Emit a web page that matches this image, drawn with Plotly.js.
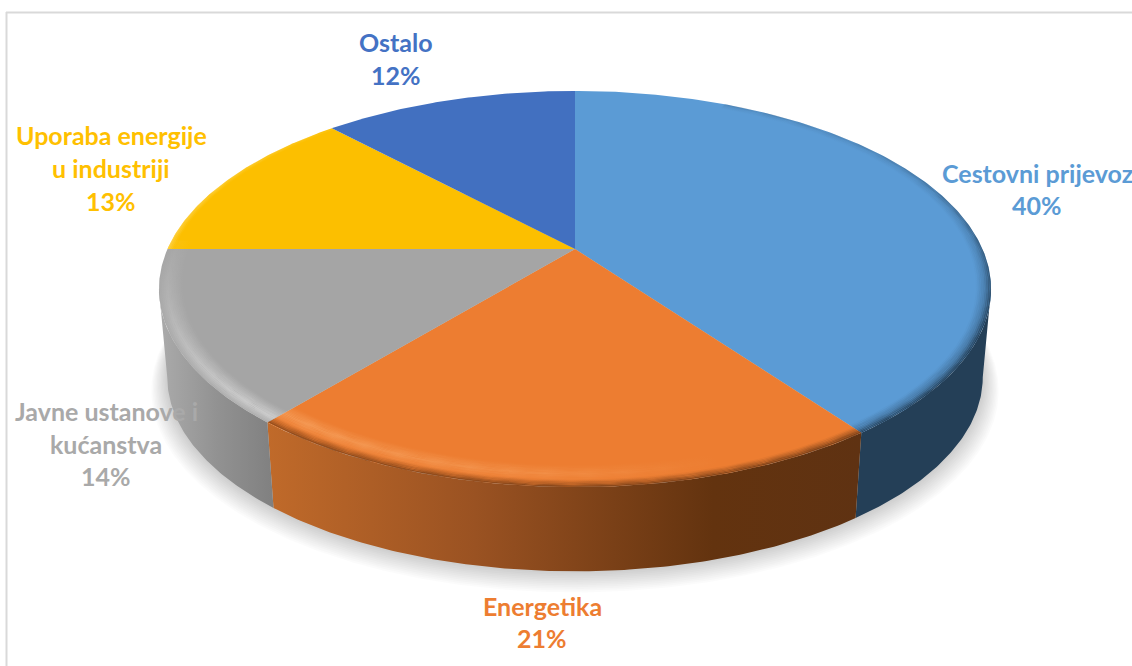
<!DOCTYPE html>
<html>
<head>
<meta charset="utf-8">
<script src="https://cdn.plot.ly/plotly-3.0.1.min.js"></script>
<style>html,body{margin:0;padding:0;background:#fff;overflow:hidden}#chart{width:1132px;height:666px}</style>
</head>
<body>
<div id="chart"></div>
<script>
// ---- data ----
const categories = ["Cestovni prijevoz", "Energetika", "Javne ustanove i kućanstva", "Uporaba energije u industriji", "Ostalo"];
const shares = [40, 21, 14, 13, 12];
const labelLines = [["Cestovni prijevoz"], ["Energetika"], ["Javne ustanove i", "kućanstva"], ["Uporaba energije", "u industriji"], ["Ostalo"]];
const sliceColors = ["#5B9BD5", "#ED7D31", "#A5A5A5", "#FCBF00", "#4270C0"];
const labelColors = ["#5B9BD5", "#ED7D31", "#A9A9A9", "#FFC000", "#4472C4"];
const wallScales = [
  [[0, "#243F57"], [1, "#243F57"]],
  [[0, "#C06A2A"], [0.35, "#9A5222"], [0.75, "#63330F"], [1, "#5F3212"]],
  [[0, "#ABABAB"], [0.5, "#929292"], [1, "#808080"]],
  null, null
];

// ---- projection of the tilted disc ----
const geo = {cx: 575, cy: 249, a: 407.5, b: 190, k: 0.202, drop: 89, shrink: 0.98};
const turn = Math.PI * 2;
function pt(t, r, low) {
  const w = 1 + geo.k * r * Math.cos(t);
  let x = geo.a * r * Math.sin(t) / w, y = -geo.b * r * Math.cos(t) / w;
  if (low) { x *= low; y = y * low + geo.drop; }
  return [geo.cx + x, geo.cy + y];
}
function arc(t0, t1, r, low) {
  const n = Math.max(2, Math.ceil(Math.abs(t1 - t0) / 0.01)), out = [];
  for (let i = 0; i <= n; i++) out.push(pt(t0 + (t1 - t0) * i / n, r, low));
  return out;
}
function poly(points, extra) {
  return Object.assign({x: points.map(p => p[0]), y: points.map(p => p[1]), type: "scatter", mode: "lines",
    fill: "toself", line: {width: 0}, hoverinfo: "skip", showlegend: false}, extra);
}

const total = shares.reduce((s, v) => s + v, 0);
const edges = [0];
shares.forEach(v => edges.push(edges[edges.length - 1] + v / total * turn));
const rightMost = Math.acos(-geo.k), leftMost = turn - rightMost;

const traces = [];

// soft shadow below the disc
for (let i = 12; i >= 1; i--) {
  const s = geo.shrink + i * 0.0032;
  const pts = arc(0, turn, 1, s).map(p => [p[0], p[1] + i * 1.0]);
  traces.push(poly(pts, {fillcolor: "rgba(0,0,0,0.014)"}));
}

// side walls, visible part only
for (let i = 0; i < 3; i++) {
  const t0 = Math.max(edges[i], rightMost), t1 = Math.min(edges[i + 1], leftMost);
  const pts = arc(t0, t1, 1).concat(arc(t1, t0, 1, geo.shrink));
  traces.push(poly(pts, {fillgradient: {type: "horizontal", colorscale: wallScales[i]}, fillcolor: sliceColors[i]}));
}

// top face slices
shares.forEach((v, i) => {
  const pts = [[geo.cx, geo.cy]].concat(arc(edges[i], edges[i + 1], 1)).concat([[geo.cx, geo.cy]]);
  traces.push(poly(pts, {fillcolor: sliceColors[i], name: categories[i], text: categories[i] + " " + v + "%", hoverinfo: "text", hoveron: "fills"}));
});

// bevel on the rim: rings of varying alpha, faded along the arc with a gradient
function lerp(profile, r) {
  for (let i = 1; i < profile.length; i++) {
    if (r <= profile[i][0]) {
      const f = (r - profile[i - 1][0]) / (profile[i][0] - profile[i - 1][0]);
      return profile[i - 1][1] + (profile[i][1] - profile[i - 1][1]) * f;
    }
  }
  return profile[profile.length - 1][1];
}
function bevel(t0, t1, rgb, profile, type, start, stop, fade) {
  const r0 = profile[0][0], r1 = profile[profile.length - 1][0], dr = 0.004;
  for (let r = r0; r < r1 - 1e-6; r += dr) {
    const a = lerp(profile, r + dr / 2);
    if (a <= 0.002) continue;
    const pts = arc(t0, t1, r).concat(arc(t1, t0, Math.min(r + dr, 1)));
    const cs = fade.map(f => [f[0], "rgba(" + rgb + "," + (a * f[1]).toFixed(3) + ")"]);
    traces.push(poly(pts, {fillcolor: "rgba(0,0,0,0)", fillgradient: {type: type, colorscale: cs, start: start, stop: stop}}));
  }
}
const [e1, e2, e3, e4] = [edges[1], edges[2], edges[3], edges[4]];
// blue: dark soft edge growing towards the front
bevel(0.45, e1, "36,63,87", [[0.965, 0], [0.985, 0.35], [1, 1]], "vertical", 150, 330, [[0, 0.25], [1, 1]]);
// orange: highlight fading to the right, dark soft edge
bevel(e1, e2, "255,190,130", [[0.925, 0], [0.955, 0.42], [0.985, 0]], "horizontal", 270, 720, [[0, 1], [0.6, 0.55], [1, 0]]);
bevel(e1, e2, "96,50,18", [[0.975, 0], [0.99, 0.45], [1, 0.9]], "horizontal", 270, 860, [[0, 0.8], [1, 1]]);
// grey: light band near the edge, strongest in front
bevel(e2, leftMost + 0.25, "240,240,240", [[0.945, 0], [0.98, 0.5], [1, 0.12]], "vertical", 250, 400, [[0, 0.1], [1, 1]]);
// yellow: faint lighter edge
bevel(e3, e4, "255,225,130", [[0.985, 0], [1, 0.5]], "horizontal", 165, 330, [[0, 1], [1, 0.4]]);

// labels, one annotation per text line
const labelSpots = [
  {x: 1037, y: [173, 205]},
  {x: 542, y: [606, 638]},
  {x: 106, y: [411, 444, 476]},
  {x: 111, y: [135, 168, 201]},
  {x: 396, y: [42, 75]}
];
const annotations = [];
categories.forEach((c, i) => {
  const lines = labelLines[i].concat([shares[i] + "%"]);
  lines.forEach((text, j) => annotations.push({
    x: labelSpots[i].x, y: labelSpots[i].y[j], xref: "x", yref: "y", text: text, showarrow: false,
    xanchor: "center", yanchor: "middle", font: {family: "Lato, 'Open Sans', sans-serif", size: 25, color: labelColors[i], weight: 700}
  }));
});

const hidden = {visible: false, fixedrange: true};
Plotly.newPlot("chart", traces, {
  width: 1132, height: 666, margin: {l: 0, r: 0, t: 0, b: 0},
  paper_bgcolor: "#fff", plot_bgcolor: "#fff", showlegend: false,
  xaxis: Object.assign({range: [0, 1132]}, hidden),
  yaxis: Object.assign({range: [666, 0]}, hidden),
  annotations: annotations,
  shapes: [
    {type: "line", xref: "x", yref: "y", x0: 6.5, x1: 6.5, y0: 12, y1: 666, line: {color: "#D9D9D9", width: 2}},
    {type: "line", xref: "x", yref: "y", x0: 6, x1: 1132, y0: 12.5, y1: 12.5, line: {color: "#D9D9D9", width: 2}}
  ]
}, {displayModeBar: false});
</script>
</body>
</html>
